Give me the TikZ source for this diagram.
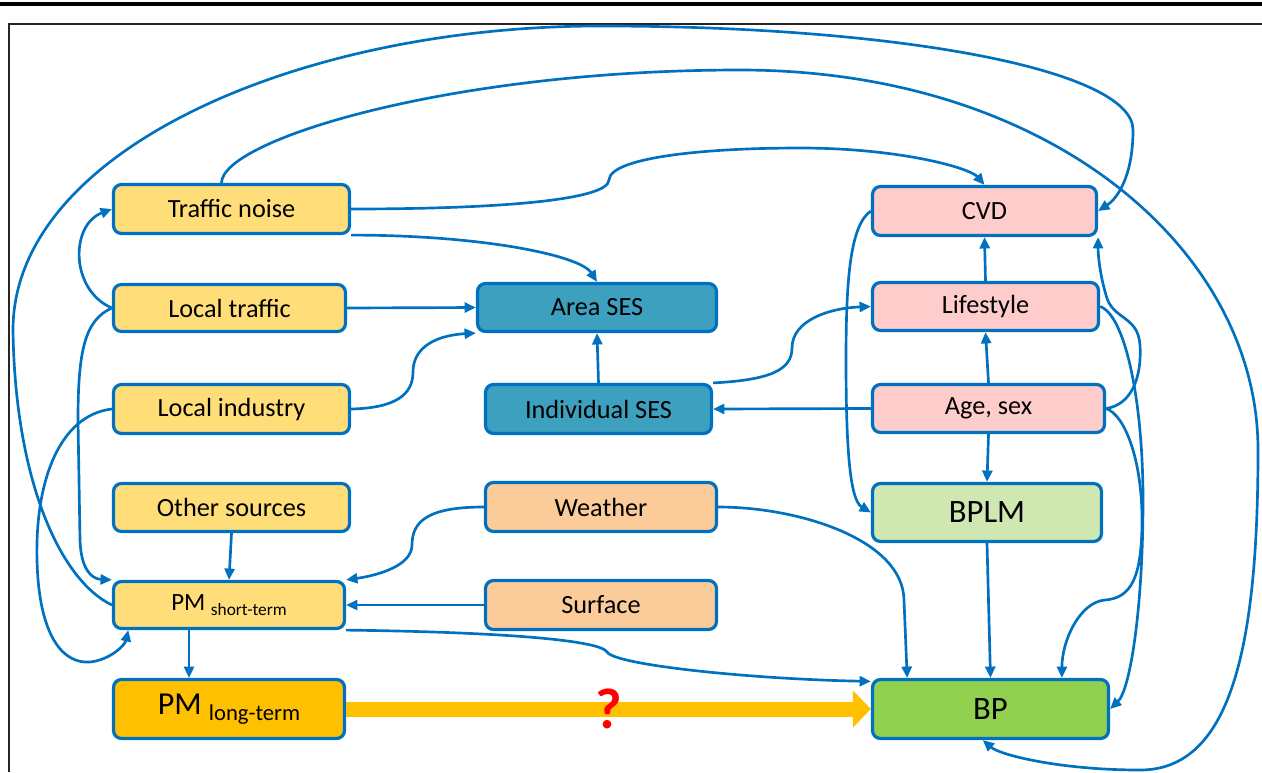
\documentclass[tikz,border=0pt]{standalone}
\usepackage{fontspec}
\setmainfont{Carlito}
\usetikzlibrary{arrows.meta,positioning}

\definecolor{linkblue}{RGB}{0,112,192}
\definecolor{srcyellow}{RGB}{255,222,122}
\definecolor{pmorange}{RGB}{255,192,0}
\definecolor{sesteal}{RGB}{60,160,190}
\definecolor{envpeach}{RGB}{251,204,153}
\definecolor{hostpink}{RGB}{255,204,204}
\definecolor{bplmgreen}{RGB}{207,232,178}
\definecolor{bpgreen}{RGB}{146,208,80}

\begin{document}
\begin{tikzpicture}[x=0.75pt, y=-0.75pt,
    box/.style={rectangle, draw=linkblue, line width=2.4pt, rounded corners=6pt, inner sep=0pt,
      minimum width=177pt, minimum height=36.75pt, font=\fontsize{19.7}{23}\selectfont},
    % big boxes of the outcome and long-term exposure
    bigbox/.style={box, minimum height=44.25pt, font=\fontsize{24.5}{28}\selectfont},
    link/.style={draw=linkblue, line width=2pt, -{Triangle[length=8.5pt,width=7.5pt]}},
    bigarrow/.style={draw=pmorange, line width=11.25pt, -{Triangle[length=13.5pt,width=27pt]}},
    qmark/.style={text=red, inner sep=0pt, font=\fontsize{43}{46}\selectfont\bfseries}
  ]
    \useasboundingbox (0,0) rectangle (1262,772);

    %--- page rule and frame ---
    \draw[line width=2.3pt] (0,4) -- (1262,4);
    \draw[line width=0.9pt, black!85] (1262,24) -- (9,24) -- (9,772);

    %--- Column 1: sources ---
    \node[box, fill=srcyellow] (trafficnoise) at (231.5,209) {Traffic noise};
    \node[box, fill=srcyellow, minimum width=174pt, minimum height=35.25pt] (localtraffic) at (229.5,308) {Local traffic};
    \node[box, fill=srcyellow] (localindustry) at (231.5,409) {Local industry};
    \node[box, fill=srcyellow, minimum height=36pt] (othersources) at (231.5,507.5) {Other sources};
    \node[box, fill=srcyellow, minimum width=173.25pt, minimum height=35.25pt, font=\fontsize{18.6}{22}\selectfont] (pmshort) at (229,605)
      {PM \raisebox{-3.8pt}{\fontsize{13}{15}\selectfont short-term}};
    \node[bigbox, fill=pmorange, minimum width=173.25pt, font=\fontsize{24}{28}\selectfont] (pmlong) at (229,709)
      {PM \raisebox{-5pt}{\fontsize{17}{20}\selectfont long-term}};

    %--- Column 2: SES and environment ---
    \node[box, fill=sesteal, minimum width=179.25pt, minimum height=36pt] (areases) at (597,307.5) {Area SES};
    \node[box, fill=sesteal, minimum width=169.5pt] (indses) at (598.5,409) {Individual SES};
    \node[box, fill=envpeach, minimum width=173.25pt] (weather) at (601,507) {Weather};
    \node[box, fill=envpeach, minimum width=173.25pt] (surface) at (601,605) {Surface};

    %--- Column 3: host factors and outcome ---
    \node[box, fill=hostpink, minimum width=168pt] (cvd) at (984.5,211) {CVD};
    \node[box, fill=hostpink, minimum width=169.5pt, minimum height=36pt] (lifestyle) at (985.5,306.5) {Lifestyle};
    \node[box, fill=hostpink, minimum width=174pt, minimum height=36pt] (agesex) at (988.5,408.5) {Age, sex};
    \node[bigbox, fill=bplmgreen, minimum width=171.75pt, minimum height=43.5pt] (bplm) at (987,512.5) {BPLM};
    \node[bigbox, fill=bpgreen] (bp) at (990.5,709) {BP};

    %--- Straight links ---
    \draw[link] (localtraffic.east) -- (areases.west);
    \draw[link] (indses.north) -- (areases.south);
    \draw[link] (othersources.south) -- (pmshort.north);
    \draw[link] (surface.west) -- (pmshort.east);
    \draw[link] ([xshift=-30pt]pmshort.south) -- ([xshift=-30pt]pmlong.north);
    \draw[link] (agesex.west) -- (indses.east);
    \draw[link] (agesex.north) -- (lifestyle.south);
    \draw[link] (lifestyle.north) -- (cvd.south);
    \draw[link] (agesex.south) -- (bplm.north);
    \draw[link] (bplm.south) -- (bp.north);

    %--- Curved links on the left ---
    \draw[link] (localtraffic.west) .. controls (70,290) and (70,225) .. (trafficnoise.west);
    \draw[link] (localtraffic.west) .. controls (85,320) and (78,350) .. (78,420)
      -- (80,540) .. controls (81,570) and (92,579) .. (pmshort.north west);
    \draw[link] (localindustry.west) .. controls (60,415) and (35,480) .. (37,560)
      .. controls (39,640) and (65,664) .. (90,662) .. controls (110,660) and (125,645) .. (pmshort.194);
    \draw[link] (pmshort.west) .. controls (60,580) and (15,480) .. (13,330)
      .. controls (13,150) and (300,26) .. (600,26)
      .. controls (900,26) and (1133,70) .. (1133,130)
      .. controls (1133,175) and (1118,198) .. (cvd.east);
    \draw[link] (trafficnoise.111) .. controls (222,140) and (450,70) .. (740,70)
      .. controls (1050,70) and (1258,250) .. (1258,450)
      .. controls (1258,650) and (1230,770) .. (1140,770)
      .. controls (1060,770) and (1000,755) .. (bp.256);

    %--- Curved links in the middle ---
    \draw[link] (trafficnoise.east) .. controls (500,209) and (608,200) .. (609,180)
      .. controls (610,158) and (700,148) .. (800,148)
      .. controls (900,148) and (970,168) .. (cvd.north);
    \draw[link] (trafficnoise.south east) .. controls (480,235) and (580,255) .. (areases.north);
    \draw[link] (localindustry.east) .. controls (395,408) and (413,395) .. (413,372)
      .. controls (413,345) and (440,335) .. (areases.south west);
    \draw[link] (indses.north east) .. controls (770,380) and (792,370) .. (792,348)
      .. controls (792,320) and (830,308) .. (lifestyle.west);
    \draw[link] (weather.west) .. controls (430,507) and (412,520) .. (412,545)
      .. controls (412,565) and (380,575) .. (pmshort.north east);
    \draw[link] (pmshort.south east) .. controls (500,632) and (600,640) .. (607,652)
      .. controls (615,665) and (750,679) .. (bp.167);
    \draw[link] (weather.east) .. controls (800,507) and (903,540) .. (904,600)
      -- ([xshift=-62.5pt]bp.north);

    %--- Curved links on the right ---
    \draw[link] (cvd.west) .. controls (850,225) and (846,280) .. (846,360)
      .. controls (846,450) and (850,500) .. (bplm.west);
    \draw[link] (agesex.east) .. controls (1130,405) and (1142,380) .. (1140,345)
      .. controls (1138,315) and (1112,320) .. (1106,295)
      .. controls (1100,275) and (1098,255) .. (cvd.south east);
    \draw[link] (lifestyle.east) .. controls (1125,315) and (1143,400) .. (1143,500)
      .. controls (1143,610) and (1130,690) .. (bp.east);
    \draw[link] (agesex.east) .. controls (1125,415) and (1142,460) .. (1142,520)
      .. controls (1142,580) and (1130,598) .. (1105,600)
      .. controls (1080,602) and (1062,640) .. ([xshift=53.5pt]bp.north);

    %--- The question ---
    \draw[bigarrow] (pmlong.east) -- node[qmark]{?} (bp.west);
\end{tikzpicture}
\end{document}
